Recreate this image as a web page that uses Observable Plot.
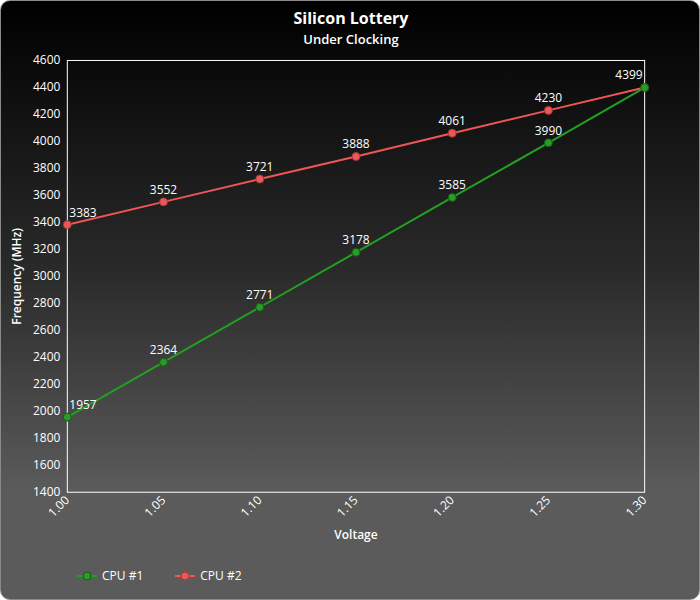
<!DOCTYPE html>
<html>
<head>
<meta charset="utf-8">
<script src="https://cdn.jsdelivr.net/npm/d3@7"></script>
<script src="https://cdn.jsdelivr.net/npm/@observablehq/plot@0.6"></script>
<style>
  html, body { margin: 0; padding: 0; background: #ffffff; }
  #card {
    position: relative; width: 698px; height: 598px;
    border: 1px solid #8a8a8a; border-radius: 10px; overflow: hidden;
    background: linear-gradient(to bottom, #000000 0%, #2a2a2a 45%, #5b5b5b 82%, #5b5b5b 100%);
    font-family: "Open Sans", sans-serif; color: #fff;
  }
  #title { position: absolute; top: 6px; left: 0; width: 700px; text-align: center; font-size: 16px; font-weight: bold; }
  #subtitle { position: absolute; top: 29px; left: 0; width: 700px; text-align: center; font-size: 13px; font-weight: 600; }
  #plot { position: absolute; top: 50px; left: 0; }
  #legend { position: absolute; top: 566px; left: 76px; font-size: 12px; display: flex; gap: 0; }
  .item { display: flex; align-items: center; margin-right: 32px; }
  .item svg { margin-right: 5px; }
</style>
</head>
<body>
<div id="card">
  <div id="title">Silicon Lottery</div>
  <div id="subtitle">Under Clocking</div>
  <div id="plot"></div>
  <div id="legend"></div>
</div>
<script>
const voltage = [1.00, 1.05, 1.10, 1.15, 1.20, 1.25, 1.30];
const cpu1 = [1957, 2364, 2771, 3178, 3585, 3990, 4399];
const cpu2 = [3383, 3552, 3721, 3888, 4061, 4230, 4399];
const seriesNames = ["CPU #1", "CPU #2"];
const lineColors = ["#22a022", "#f05555"];
const fillColors = ["#2a9a2a", "#e85a5a"];
const strokeColors = ["#125a12", "#a83535"];
const yTicks = d3.range(1400, 4601, 200);

const data = [];
voltage.forEach((v, i) => data.push({v, f: cpu2[i], s: seriesNames[1], i}));
voltage.forEach((v, i) => data.push({v, f: cpu1[i], s: seriesNames[0], i}));

const last = voltage.length - 1;
const first = data.filter(d => d.i === 0);
const mid = data.filter(d => d.i > 0 && d.i < last);
const end = data.filter(d => d.i === last);

const chart = Plot.plot({
  width: 700, height: 500,
  marginTop: 9, marginBottom: 58, marginLeft: 66, marginRight: 55,
  style: {background: "transparent", color: "#fff", fontFamily: "Open Sans, sans-serif", fontSize: "12px"},
  x: {domain: [1.00, 1.30], ticks: voltage, tickFormat: d3.format(".2f"), label: "Voltage", labelArrow: "none", labelAnchor: "center", labelOffset: 47, tickRotate: -45, tickSize: 0, tickPadding: 6},
  y: {domain: [1400, 4600], ticks: yTicks, tickFormat: d3.format("d"), label: "Frequency (MHz)", labelArrow: "none", labelAnchor: "center", labelOffset: 55, tickSize: 0, tickPadding: 7},
  marks: [
    Plot.frame({stroke: "#fff", strokeWidth: 1}),
    Plot.line(data, {x: "v", y: "f", z: "s", stroke: d => d.s === seriesNames[0] ? lineColors[0] : lineColors[1], strokeWidth: 2}),
    Plot.dot(data, {x: "v", y: "f", r: 4, fill: d => d.s === seriesNames[0] ? fillColors[0] : fillColors[1], stroke: d => d.s === seriesNames[0] ? strokeColors[0] : strokeColors[1], strokeWidth: 1}),
    Plot.text(first, {x: "v", y: "f", text: d => String(d.f), dy: -12, dx: 2, textAnchor: "start", fill: "#fff", fontSize: 12}),
    Plot.text(mid, {x: "v", y: "f", text: d => String(d.f), dy: -12, textAnchor: "middle", fill: "#fff", fontSize: 12}),
    Plot.text(end.slice(1), {x: "v", y: "f", text: d => String(d.f), dy: -12, dx: -2, textAnchor: "end", fill: "#fff", fontSize: 12})
  ]
});
d3.select(chart).selectAll("[aria-label='x-axis label'] text, [aria-label='y-axis label'] text").style("font-weight", "600");
document.getElementById("plot").appendChild(chart);

const legend = document.getElementById("legend");
seriesNames.forEach((name, k) => {
  const item = document.createElement("div");
  item.className = "item";
  item.innerHTML = `<svg width="20" height="12"><line x1="0" x2="20" y1="6" y2="6" stroke="${lineColors[k]}" stroke-width="2"/><circle cx="10" cy="6" r="4" fill="${fillColors[k]}" stroke="${strokeColors[k]}"/></svg><span>${name}</span>`;
  legend.appendChild(item);
});
</script>
</body>
</html>
